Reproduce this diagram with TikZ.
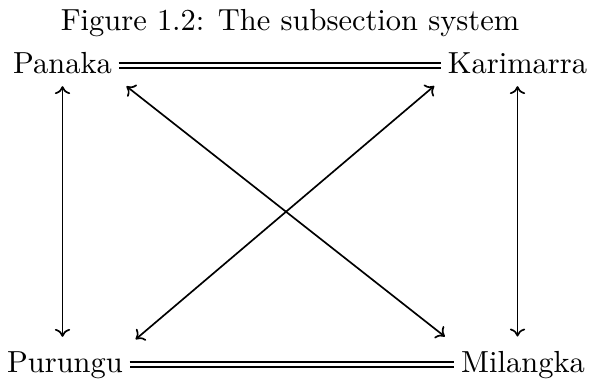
\documentclass[tikz,border=0pt]{standalone}
\usetikzlibrary{arrows.meta}
\begin{document}
\begin{tikzpicture}[x=0.328pt,y=-0.328pt,
  lbl/.style={inner sep=2pt,anchor=base},
  eqline/.style={double,double distance=1.1pt,line width=0.55pt},
  biarrow/.style={{To[length=2.6pt,width=5pt]}-{To[length=2.6pt,width=5pt]},line width=0.55pt}]
\useasboundingbox (0,0) rectangle (589,379);
\node[lbl] (cap) at (290,30) {Figure 1.2: The subsection system};
\node[lbl] (pan) at (62.5,73) {Panaka};
\node[lbl] (kar) at (517.5,73) {Karimarra};
\node[lbl] (pur) at (65,372) {Purungu};
\node[lbl] (mil) at (523,372) {Milangka};
\draw[eqline] ([yshift=2.5pt]pan.base east) -- ([yshift=2.5pt]kar.base west);
\draw[eqline] ([yshift=2.5pt]pur.base east) -- ([yshift=2.5pt]mil.base west);
\draw[biarrow,shorten <=2pt,shorten >=2.5pt] (pan.south) -- (pan.south |- pur.north);
\draw[biarrow,shorten <=2pt,shorten >=2.5pt] (kar.south) -- (kar.south |- mil.north);
\draw[biarrow,shorten <=3.3pt,shorten >=4pt] (pan.south east) -- (mil.north west);
\draw[biarrow,shorten <=3pt,shorten >=2.6pt] (kar.south west) -- (pur.north east);
\end{tikzpicture}
\end{document}
